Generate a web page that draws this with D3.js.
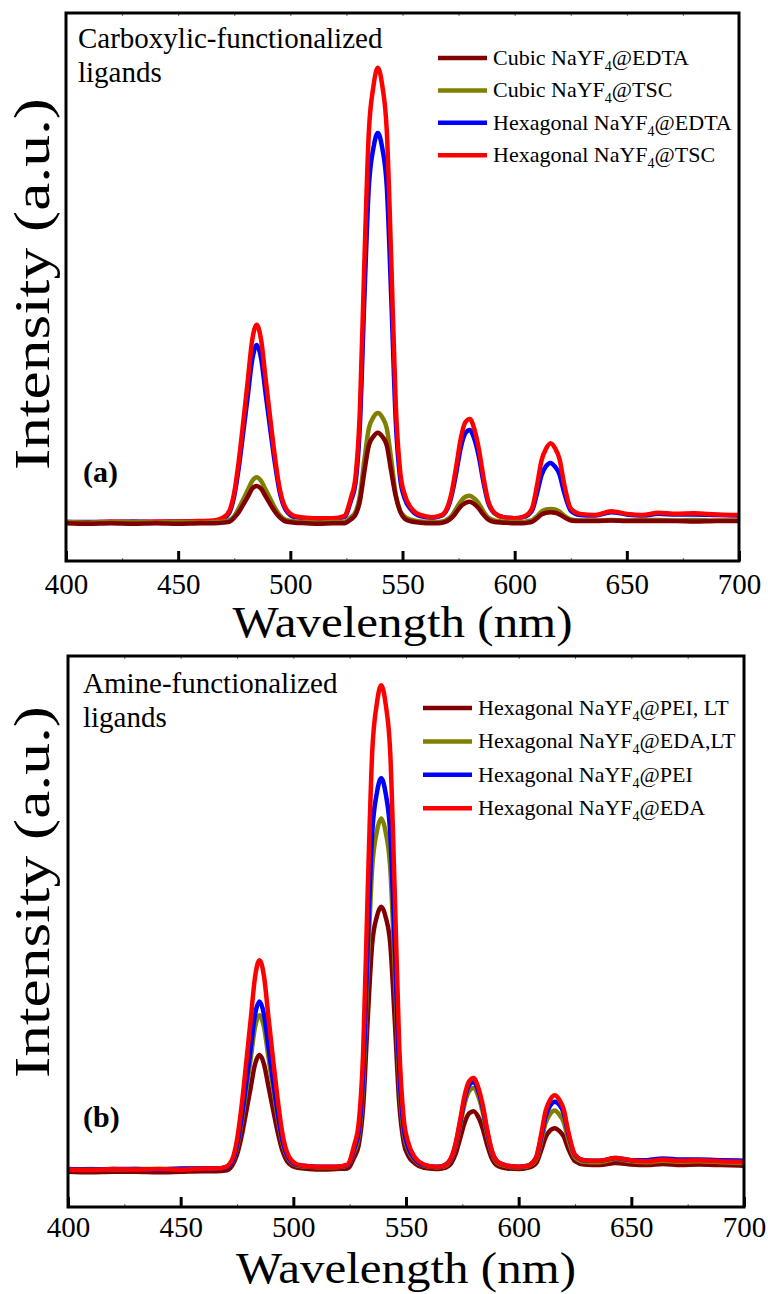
<!DOCTYPE html>
<html>
<head>
<meta charset="utf-8">
<script src="https://cdn.jsdelivr.net/npm/d3@7"></script>
<style>
body{margin:0;background:#fff}
svg{display:block}
text{font-family:"Liberation Serif","Times New Roman",Times,serif;fill:#000}
</style>
</head>
<body>
<svg id="c" width="768" height="1294"></svg>
<script>
// ---------- DATA ----------
const wavelengths = [400,410,420,430,440,450,460,466,470,
  473,475,477,479,481,483,485,487,489,491,493,495,498,502,
  507,513,519,524,
  527,529,531,533,535,537,539,541,543,545,547,549,551,554,558,
  563,566,
  568,570,572,574,576,578,580,582,584,586,588,591,595,
  600,604,
  606,608,610,612,614,616,618,620,622,625,629,
  636,643,650,657,664,672,680,690,700];

const xTicks = [400,450,500,550,600,650,700];
const minorTicks = [425,475,525,575,625,675];
const topTicks = [425,450,475,500,525,550,575,600,625,650,675];

// Panel (a): carboxylic-functionalized ligands
const aCubicEDTA = [6.9,6.8,6.9,6.8,6.9,6.8,6.9,6.9,7.0,
  7.2,7.9,8.9,10.3,11.7,13.2,13.7,13.2,11.8,10.4,9.1,8.1,7.2,7.0,
  6.9,6.8,6.9,6.9,
  7.6,8.4,10.9,16.3,21.1,22.7,23.4,22.7,21.1,16.3,11.8,9.0,7.7,7.2,7.0,
  6.9,6.9,
  7.0,7.3,7.9,8.9,10.0,10.6,10.8,10.4,9.6,8.5,7.6,7.1,7.0,
  6.9,6.9,
  7.0,7.2,7.8,8.5,8.8,8.9,8.8,8.5,8.0,7.4,7.3,
  7.3,7.4,7.3,7.3,7.3,7.3,7.2,7.3,7.3];
const aCubicTSC = [7.1,7.0,7.1,7.1,7.0,7.1,7.0,7.1,7.2,
  7.5,8.2,9.6,11.2,12.9,14.6,15.3,14.6,13.0,11.4,9.8,8.5,7.5,7.2,
  7.1,7.0,7.1,7.1,
  8.0,8.9,11.9,18.4,24.2,26.2,27.0,26.2,24.2,18.4,12.1,9.1,8.1,7.5,7.2,
  7.1,7.1,
  7.2,7.6,8.3,9.6,10.9,11.7,11.9,11.4,10.5,9.1,8.0,7.4,7.2,
  7.1,7.1,
  7.3,7.5,8.2,9.0,9.4,9.5,9.4,9.0,8.3,7.6,7.4,
  7.4,7.5,7.4,7.5,7.5,7.4,7.5,7.4,7.4];
const aHexEDTA = [7.1,7.1,7.1,7.2,7.1,7.2,7.2,7.3,7.7,
  9.0,11.9,17.0,23.4,30.0,36.7,39.4,36.9,30.5,24.2,18.2,13.1,9.3,8.0,
  7.8,7.7,7.7,8.0,
  11.0,14.1,24.7,47.9,68.3,75.3,78.1,75.3,68.3,47.9,25.5,14.9,11.4,9.3,8.2,
  7.9,8.1,
  8.4,9.5,12.1,16.2,20.7,23.3,23.9,22.3,19.1,14.6,10.9,8.7,8.0,
  7.8,8.0,
  8.4,9.4,12.4,15.7,17.3,17.9,17.2,15.8,12.6,9.2,8.4,
  8.3,8.9,8.5,8.3,8.6,8.5,8.5,8.4,8.3];
const aHexTSC = [7.1,7.0,7.2,7.1,7.2,7.2,7.3,7.4,7.9,
  9.3,12.5,18.2,25.3,32.8,40.3,43.1,40.3,33.2,26.2,19.4,13.8,9.6,8.2,
  7.9,7.8,7.8,8.2,
  11.5,15.2,27.5,54.5,78.3,86.5,90.0,86.7,78.5,54.7,28.5,16.2,12.1,9.6,8.4,
  8.0,8.2,
  8.5,9.8,12.7,17.4,22.4,25.3,25.9,24.1,20.5,15.5,11.3,8.8,8.0,
  7.8,8.1,
  8.6,9.9,13.9,18.4,20.5,21.5,20.6,18.6,14.2,9.6,8.6,
  8.4,9.1,8.6,8.4,8.8,8.6,8.7,8.5,8.4];

// Panel (b): amine-functionalized ligands
const bPEILT = [6.4,6.3,6.4,6.4,6.3,6.4,6.5,6.5,6.6,
  7.6,9.5,12.8,17.1,21.5,25.9,27.6,25.9,21.8,17.7,13.7,10.4,7.9,7.1,
  6.9,6.8,6.9,7.0,
  9.0,11.2,18.3,34.0,47.8,52.6,54.5,52.6,47.8,34.0,18.8,11.7,9.3,7.9,7.1,
  6.9,7.0,
  7.2,7.9,9.6,12.4,15.3,17.0,17.4,16.4,14.3,11.3,8.9,7.4,7.0,
  6.9,7.1,
  7.4,8.1,10.3,12.7,13.9,14.3,13.8,12.8,10.6,8.3,7.7,
  7.6,8.0,7.7,7.6,7.8,7.6,7.7,7.6,7.5];
const bEDALT = [6.8,6.9,6.8,6.9,6.9,6.9,7.0,7.0,7.2,
  8.3,10.8,15.3,20.9,26.7,32.6,34.8,32.6,27.1,21.6,16.3,11.9,8.6,7.5,
  7.3,7.2,7.2,7.5,
  10.0,12.9,22.4,43.3,61.6,68.0,70.5,68.0,61.6,43.3,23.0,13.5,10.4,8.5,7.5,
  7.2,7.3,
  7.6,8.6,11.0,14.7,18.7,21.0,21.6,20.2,17.3,13.2,9.9,7.9,7.4,
  7.2,7.4,
  7.8,8.8,11.9,15.3,16.9,17.5,16.8,15.4,12.3,9.0,8.2,
  8.1,8.7,8.3,8.1,8.4,8.2,8.3,8.1,8.0];
const bPEI = [6.9,6.8,6.9,6.9,6.8,7.0,7.0,7.0,7.2,
  8.4,11.2,16.0,22.1,28.5,34.9,37.3,34.9,28.9,22.9,17.2,12.4,8.8,7.6,
  7.4,7.3,7.3,7.6,
  10.5,13.6,24.2,47.5,67.9,75.0,77.8,75.0,67.9,47.5,24.9,14.4,10.8,8.7,7.6,
  7.3,7.4,
  7.8,8.8,11.3,15.3,19.6,22.1,22.7,21.2,18.1,13.8,10.2,8.1,7.5,
  7.3,7.5,
  8.0,9.2,12.7,16.5,18.4,19.1,18.6,17.0,13.3,9.4,8.5,
  8.4,8.9,8.5,8.5,8.8,8.6,8.6,8.5,8.4];
const bEDA = [6.8,6.7,6.9,6.8,6.9,6.8,7.0,7.0,7.3,
  8.8,12.2,18.2,25.8,33.7,41.7,44.8,41.8,34.3,26.8,19.7,13.7,9.2,7.7,
  7.4,7.3,7.3,7.7,
  11.2,15.2,28.3,57.1,82.5,91.2,94.7,91.2,82.5,57.1,29.2,16.0,11.7,9.0,7.7,
  7.3,7.4,
  7.8,8.9,11.5,15.7,20.2,22.8,23.4,21.8,18.6,14.1,10.4,8.1,7.5,
  7.3,7.5,
  8.0,9.3,13.2,17.5,19.5,20.3,19.5,17.7,13.7,9.5,8.5,
  8.4,8.9,8.5,8.3,8.6,8.4,8.5,8.3,8.2];

const labelsA = ["Cubic NaYF4@EDTA","Cubic NaYF4@TSC","Hexagonal NaYF4@EDTA","Hexagonal NaYF4@TSC"];
const labelsB = ["Hexagonal NaYF4@PEI, LT","Hexagonal NaYF4@EDA,LT","Hexagonal NaYF4@PEI","Hexagonal NaYF4@EDA"];
const colors = ["#800000","#808000","#0000FF","#FF0000"];

// ---------- DRAWING ----------
const svg = d3.select("#c");
const FONT = '"Liberation Serif","Times New Roman",Times,serif';

const panels = [
  {id:"a", left:66, right:739, top:13, bottom:561,
   series:[aCubicEDTA,aCubicTSC,aHexEDTA,aHexTSC], labels:labelsA,
   drawOrder:[2,3,1,0],
   note:["Carboxylic-functionalized","ligands"], noteX:78, noteY:48,
   tag:"(a)", tagX:83, tagY:482,
   legX:438, legY:58, legStep:32.4, tickPad:12.5,
   yLabelX:49, yLabelCY:284, xLabelY:637},
  {id:"b", left:68, right:744, top:656, bottom:1207,
   series:[bPEILT,bEDALT,bPEI,bEDA], labels:labelsB,
   drawOrder:[0,1,2,3],
   note:["Amine-functionalized","ligands"], noteX:83, noteY:693,
   tag:"(b)", tagX:83, tagY:1127,
   legX:423, legY:708, legStep:33.4, tickPad:9.5,
   yLabelX:49, yLabelCY:892, xLabelY:1283}
];

panels.forEach(p => {
  const x = d3.scaleLinear().domain([400,700]).range([p.left,p.right]);
  const y = d3.scaleLinear().domain([0,100]).range([p.bottom,p.top]);
  const g = svg.append("g");

  const clipId = "clip-" + p.id;
  svg.append("clipPath").attr("id", clipId).append("rect")
    .attr("x", p.left).attr("y", p.top)
    .attr("width", p.right - p.left).attr("height", p.bottom - p.top);

  const line = d3.line()
    .x((d,i) => x(wavelengths[i]))
    .y(d => y(d))
    .curve(d3.curveMonotoneX);

  p.drawOrder.forEach(k => {
    g.append("path")
      .attr("d", line(p.series[k]))
      .attr("fill","none")
      .attr("stroke", colors[k])
      .attr("stroke-width", 4.5)
      .attr("stroke-linejoin","round")
      .attr("clip-path", `url(#${clipId})`);
  });

  // minor ticks bottom
  const mb = g.append("g").attr("transform",`translate(0,${p.bottom})`)
    .call(d3.axisBottom(x).tickValues(minorTicks).tickSize(-3).tickSizeOuter(0).tickFormat(""));
  mb.select(".domain").remove();
  mb.selectAll("line").attr("stroke","#666").attr("stroke-width",1);

  // minor ticks top
  const mt = g.append("g").attr("transform",`translate(0,${p.top})`)
    .call(d3.axisTop(x).tickValues(topTicks).tickSize(-3).tickSizeOuter(0).tickFormat(""));
  mt.select(".domain").remove();
  mt.selectAll("line").attr("stroke","#666").attr("stroke-width",1);

  // major ticks + labels
  const ax = g.append("g").attr("transform",`translate(0,${p.bottom})`)
    .call(d3.axisBottom(x).tickValues(xTicks).tickSize(-10).tickSizeOuter(0).tickPadding(p.tickPad).tickFormat(d3.format("d")));
  ax.attr("font-family", FONT).attr("font-size", 29);
  ax.select(".domain").remove();
  ax.selectAll("line").attr("stroke","#000").attr("stroke-width",3);
  ax.selectAll("text").attr("fill","#000");

  // frame
  g.append("rect")
    .attr("x", p.left).attr("y", p.top)
    .attr("width", p.right - p.left).attr("height", p.bottom - p.top)
    .attr("fill","none").attr("stroke","#000").attr("stroke-width",3);

  // x label
  g.append("text")
    .attr("x", (p.left + p.right)/2).attr("y", p.xLabelY)
    .attr("text-anchor","middle").attr("font-size",44)
    .attr("textLength",340).attr("lengthAdjust","spacingAndGlyphs")
    .text("Wavelength (nm)");

  // y label
  g.append("text")
    .attr("transform", `translate(${p.yLabelX},${p.yLabelCY}) rotate(-90)`)
    .attr("text-anchor","middle").attr("font-size",50)
    .attr("textLength",372).attr("lengthAdjust","spacingAndGlyphs")
    .text("Intensity (a.u.)");

  // annotation
  p.note.forEach((t,i) => {
    g.append("text").attr("x", p.noteX).attr("y", p.noteY + i*34)
      .attr("font-size",29).text(t);
  });

  // panel tag
  g.append("text").attr("x", p.tagX).attr("y", p.tagY)
    .attr("font-size",30).attr("font-weight","bold").text(p.tag);

  // legend
  p.labels.forEach((lab,i) => {
    const ly = p.legY + i*p.legStep;
    g.append("line")
      .attr("x1", p.legX).attr("x2", p.legX + 49)
      .attr("y1", ly).attr("y2", ly)
      .attr("stroke", colors[i]).attr("stroke-width",4.5);
    const parts = lab.split("NaYF4");
    const t = g.append("text").attr("x", p.legX + 55).attr("y", ly + 7).attr("font-size",22);
    t.append("tspan").text(parts[0] + "NaYF");
    t.append("tspan").attr("font-size",14).attr("dy",6).text("4");
    t.append("tspan").attr("font-size",22).attr("dy",-6).text(parts[1]);
  });
});
</script>
</body>
</html>
